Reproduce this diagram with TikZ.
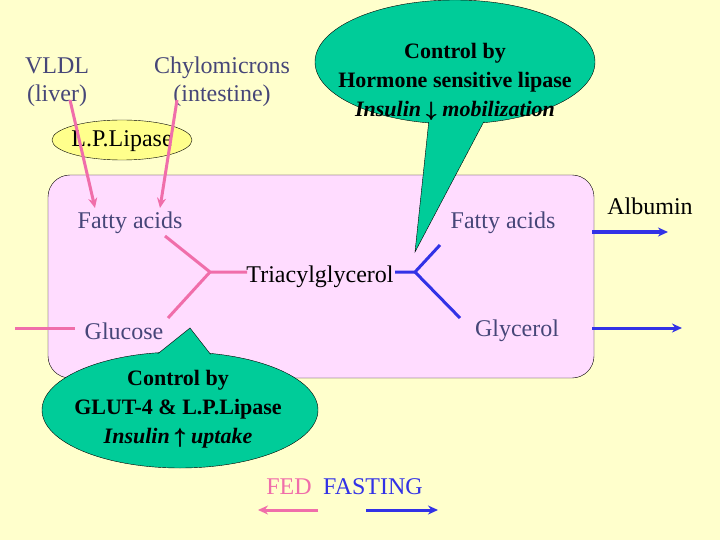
\documentclass[tikz,border=0pt]{standalone}
\usepackage{amsmath,amssymb}
\usepackage{fontspec}
\setmainfont{Liberation Serif}
\usetikzlibrary{arrows.meta}
\definecolor{bg}{RGB}{255,255,204}
\definecolor{pinkbox}{RGB}{255,220,255}
\definecolor{grn}{RGB}{0,204,153}
\definecolor{lpy}{RGB}{255,255,140}
\definecolor{pk}{RGB}{240,110,170}
\definecolor{bl}{RGB}{50,50,230}
\definecolor{txt}{RGB}{70,70,120}
\tikzset{lbl/.style={text=txt,font=\fontsize{24}{28}\selectfont,align=center,inner sep=0},
 plain/.style={font=\fontsize{24}{28}\selectfont,inner sep=0},
 ctxt/.style={font=\bfseries\fontsize{22}{29}\selectfont,align=center,inner sep=0},
 pkl/.style={draw=pk,line width=3pt},
 bll/.style={draw=bl,line width=3pt},
 arr/.style={-{Stealth[length=10pt,width=9pt]}}}
\begin{document}
\begin{tikzpicture}[x=1pt,y=-1pt]
\fill[bg] (0,0) rectangle (720,540);
\useasboundingbox (0,0) rectangle (720,540);
\draw[fill=pinkbox,rounded corners=22pt] (48,175) rectangle (594,378);
% top callout
\draw[fill=grn] (455,62) ellipse [x radius=140,y radius=62];
\draw[fill=grn] (430,110) -- (415,252) -- (490,110) -- cycle;
\fill[grn] (455,62) ellipse [x radius=139,y radius=61];
\node[ctxt] (c1) at (455,82) {Control by\\Hormone sensitive lipase\\\textit{Insulin $\pmb{\downarrow}$ mobilization}};
% bottom callout
\draw[fill=grn] (180,410) ellipse [x radius=138,y radius=58];
\draw[fill=grn] (150,360) -- (190,328) -- (215,360) -- cycle;
\fill[grn] (180,410) ellipse [x radius=137,y radius=57];
\node[ctxt] (c2) at (178,409) {Control by\\GLUT-4 \& L.P.Lipase\\\textit{Insulin $\pmb{\uparrow}$ uptake}};
% labels
\node[lbl] (vldl) at (57,82) {VLDL\\(liver)};
\node[lbl] (chy) at (222,82) {Chylomicrons\\(intestine)};
\draw[fill=lpy] (122,140) ellipse [x radius=70,y radius=20];
\node[plain] (lpl) at (122,141) {L.P.Lipase};
\node[lbl] (fa1) at (130,223) {Fatty acids};
\node[lbl] (fa2) at (503,223) {Fatty acids};
\node[plain] (tag) at (320,277) {Triacylglycerol};
\node[lbl] (glc) at (124,331) {Glucose};
\node[lbl] (gly) at (517,331) {Glycerol};
\node[plain] (alb) at (650,206) {Albumin};
\node[plain,text=pk] (fed) at (289,487) {FED};
\node[plain,text=bl] (fast) at (373,487) {FASTING};
% pink connectors
\coordinate (j) at (210,272);
\draw[pkl,arr] (70,100) -- (95,208);
\draw[pkl,arr] (177,100) -- (160,208);
\draw[pkl] (165,236) -- (j) -- (247,272);
\draw[pkl] (j) -- (168,318);
\draw[pkl] (15,328) -- (75,328);
% blue connectors
\coordinate (k) at (415,272);
\draw[bll] (395,272) -- (k) -- (440,245);
\draw[bll] (k) -- (460,318);
\draw[bll,arr] (592,232) -- (668,232);
\draw[bll,arr] (592,328) -- (682,328);
% legend
\draw[pkl,arr] (318,510) -- (258,510);
\draw[bll,arr] (366,510) -- (438,510);
\end{tikzpicture}
\end{document}
